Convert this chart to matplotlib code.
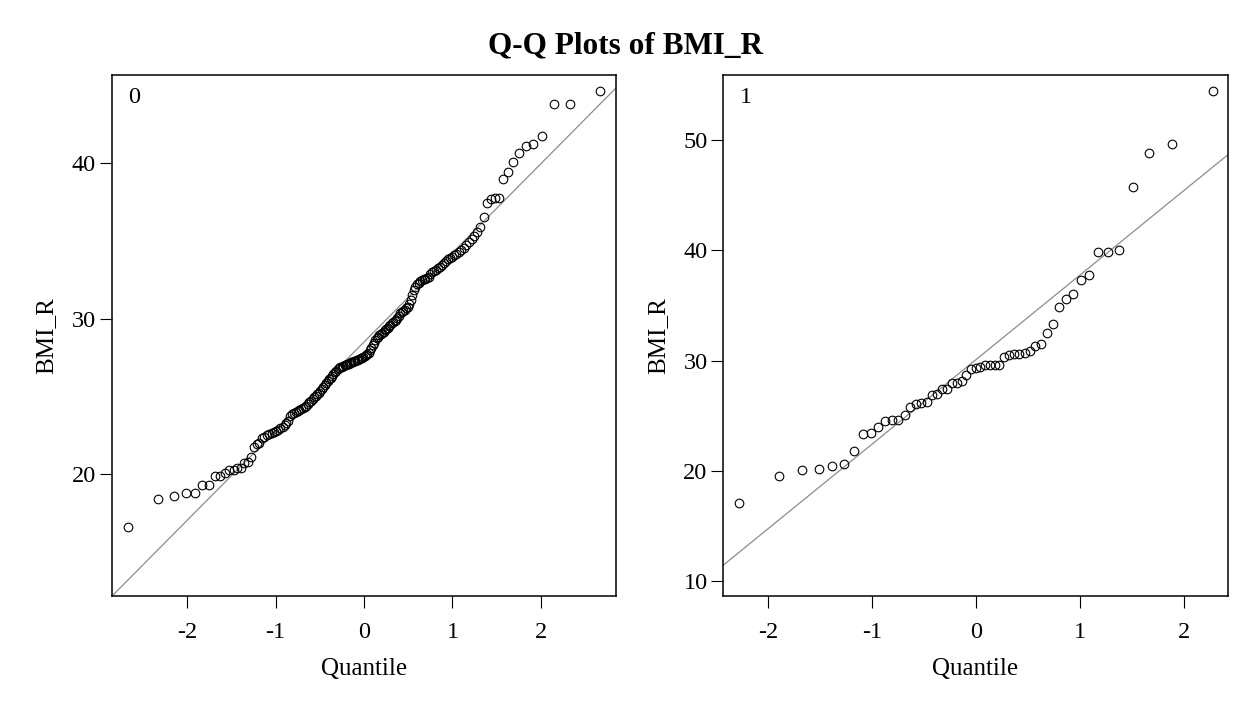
from statistics import NormalDist
import numpy as np
import matplotlib
matplotlib.use("Agg")
import matplotlib.pyplot as plt

plt.rcParams['font.family'] = ['Liberation Serif', 'DejaVu Serif']
plt.rcParams['axes.unicode_minus'] = False

# sorted BMI_R values, one list per group
bmi_0 = [16.59, 18.39, 18.60, 18.78, 18.78, 19.29, 19.29, 19.87, 19.87, 20.10,
         20.28, 20.28, 20.39, 20.39, 20.71, 20.81, 21.09, 21.77, 21.95, 22.03,
         22.32, 22.42, 22.50, 22.58, 22.65, 22.72, 22.78, 22.85, 22.95, 23.05,
         23.15, 23.27, 23.45, 23.78, 23.85, 23.92, 24.00, 24.05, 24.12, 24.18,
         24.25, 24.33, 24.42, 24.52, 24.62, 24.72, 24.84, 24.95, 25.05, 25.15,
         25.25, 25.38, 25.50, 25.62, 25.72, 25.85, 26.00, 26.10, 26.22, 26.35,
         26.45, 26.55, 26.66, 26.74, 26.82, 26.88, 26.93, 26.96, 27.00, 27.04,
         27.08, 27.12, 27.16, 27.19, 27.22, 27.26, 27.30, 27.34, 27.38, 27.42,
         27.45, 27.48, 27.52, 27.58, 27.65, 27.72, 27.82, 28.00, 28.15, 28.30,
         28.45, 28.62, 28.75, 28.85, 28.94, 29.02, 29.10, 29.18, 29.26, 29.34,
         29.42, 29.52, 29.62, 29.70, 29.78, 29.85, 29.92, 30.02, 30.20, 30.35,
         30.42, 30.50, 30.58, 30.68, 30.78, 30.95, 31.20, 31.50, 31.85, 32.05,
         32.22, 32.32, 32.40, 32.48, 32.54, 32.58, 32.62, 32.72, 32.85, 32.98,
         33.06, 33.15, 33.25, 33.35, 33.48, 33.60, 33.72, 33.82, 33.92, 34.00,
         34.08, 34.18, 34.30, 34.42, 34.55, 34.75, 34.96, 35.15, 35.32, 35.60,
         35.92, 36.57, 37.47, 37.69, 37.79, 37.79, 38.99, 39.42, 40.10, 40.64,
         41.13, 41.24, 41.76, 43.79, 43.79, 44.65]

bmi_1 = [17.05, 19.55, 20.06, 20.15, 20.43, 20.65, 21.78, 23.38, 23.44, 24.01,
         24.53, 24.63, 24.63, 25.10, 25.75, 26.10, 26.19, 26.25, 26.85, 26.98,
         27.38, 27.38, 27.95, 28.01, 28.11, 28.70, 29.20, 29.33, 29.42, 29.57,
         29.57, 29.57, 29.64, 30.36, 30.52, 30.58, 30.58, 30.67, 30.89, 31.36,
         31.55, 32.46, 33.34, 34.84, 35.62, 36.06, 37.34, 37.75, 39.88, 39.88,
         40.00, 45.77, 48.83, 49.68, 54.48]

groups = ['0', '1']
y_ticks = [[20, 30, 40], [10, 20, 30, 40, 50]]
x_ticks = [-2, -1, 0, 1, 2]
x_lims = [(-2.856, 2.847), (-2.429, 2.423)]
y_lims = [(12.14, 45.65), (8.59, 55.88)]


def blom_quantiles(n):
  nd = NormalDist()
  return np.array([nd.inv_cdf((i - 0.375) / (n + 0.25)) for i in range(1, n + 1)])


fig = plt.figure(figsize=(12.49, 7.02), dpi=100)
axes = [fig.add_axes([0.0893, 0.1503, 0.4037, 0.7422]),
        fig.add_axes([0.5791, 0.1503, 0.4037, 0.7422])]

for k, (ax, data) in enumerate(zip(axes, [bmi_0, bmi_1])):
  y = np.sort(np.array(data))
  q = blom_quantiles(len(y))
  mu, sd = y.mean(), y.std(ddof=1)

  # reference line: mean + sd * quantile
  ax.axline((0, mu), slope=sd, color='#8c8c8c', lw=0.9, zorder=1)
  ax.plot(q, y, 'o', ms=6.2, mfc='none', mec='black', mew=0.8, zorder=2)

  ax.set_xlim(*x_lims[k])
  ax.set_ylim(*y_lims[k])
  ax.set_xticks(x_ticks)
  ax.set_yticks(y_ticks[k])
  ax.tick_params(axis='both', direction='out', length=8.3, width=0.8,
                 labelsize=17.5, top=False, right=False)
  ax.tick_params(axis='x', pad=10)
  ax.tick_params(axis='y', pad=3)
  for s in ax.spines.values():
    s.set_linewidth(1.1)

  ax.set_xlabel('Quantile', fontsize=18)
  ax.xaxis.label.set_va('center')
  ax.xaxis.set_label_coords(0.5, -0.14)
  ax.set_ylabel('BMI_R', fontsize=18)
  ax.yaxis.label.set_va('center')
  ax.yaxis.set_label_coords(-0.13, 0.5)

  ax.text(0.044, 0.958, groups[k], transform=ax.transAxes, fontsize=17.5,
          ha='center', va='center')

fig.text(0.501, 0.935, 'Q-Q Plots of BMI_R', ha='center', va='center',
         fontsize=22.5, fontweight='bold')

fig.savefig('out.png', dpi=100)
